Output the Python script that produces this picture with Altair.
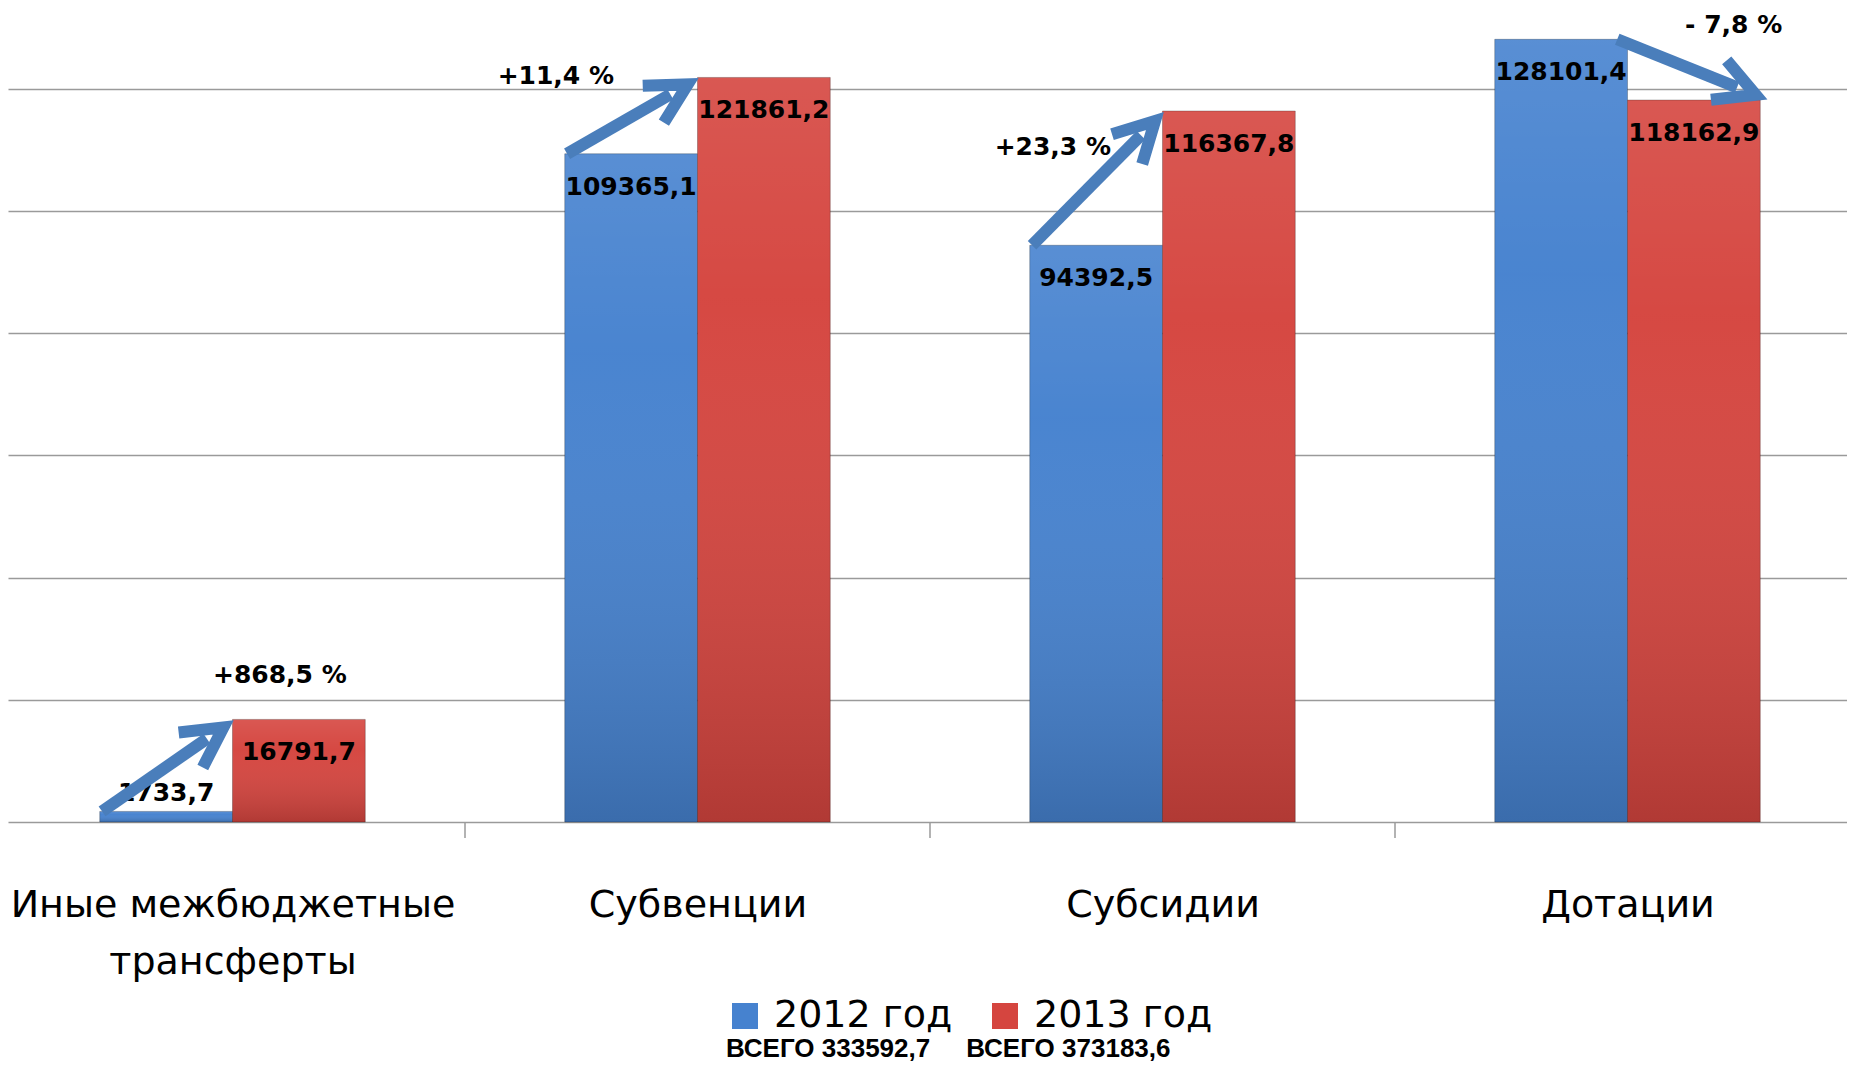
import json
import math
import altair as alt
import pandas as pd

# ---------------- data ----------------
categories = ["Иные межбюджетные трансферты", "Субвенции", "Субсидии", "Дотации"]
years = ["2012 год", "2013 год"]
values_2012 = [1733.7, 109365.1, 94392.5, 128101.4]
values_2013 = [16791.7, 121861.2, 116367.8, 118162.9]
grid_values = [0, 20000, 40000, 60000, 80000, 100000, 120000]

# ---------------- layout / style ----------------
PLOT_W = 1839
PLOT_H = 814
PXU = 465.0                 # pixels per category unit
PPV = 122.2 / 20000         # pixels per value unit
X_MIN = 8 / PXU
X_MAX = X_MIN + PLOT_W / PXU
Y_MAX = PLOT_H / PPV
BAR_W = 0.2855
BLUE = "#4682cf"
RED = "#d5453f"
ARROW = "#4a7ebb"
GRID = "#9a9a9a"
PCT_OFFSETS = [(45, -44), (-144, -1), (-112, 36), (-35, -75)]  # px from arrow tip
INSIDE_MIN_PX = 45
SHAFT_GAP = 34


def fmt(v):
    return f"{v:.1f}".replace(".", ",")


def fmt_pct(a, b):
    p = (b / a - 1) * 100
    sign = "+" if p >= 0 else "- "
    return f"{sign}{abs(p):.1f} %".replace(".", ",")


# bars
bar_rows = []
for i, cat in enumerate(categories):
    for yr, vals, left in ((years[0], values_2012, i + 0.5 - BAR_W), (years[1], values_2013, i + 0.5)):
        v = vals[i]
        bar_rows.append({
            "cat": cat, "year": yr, "value": v,
            "x0": left, "x1": left + BAR_W, "xc": left + BAR_W / 2,
            "label": fmt(v), "inside": v * PPV >= INSIDE_MIN_PX,
        })
bars = pd.DataFrame(bar_rows)

# arrows
arrow_rows = []
for i, cat in enumerate(categories):
    a, b = values_2012[i], values_2013[i]
    if b >= a:
        x0 = i + 0.5 - BAR_W + 0.005
        x1 = i + 0.5 + 0.005
    else:
        x0 = i + 0.5 - 0.022
        x1 = i + 0.5 + BAR_W + 0.018
    y0, y1 = a, b
    dxp = (x1 - x0) * PXU
    dyp = -(y1 - y0) * PPV
    L = math.hypot(dxp, dyp)
    ux, uy = dxp / L, dyp / L
    xs = x1 - SHAFT_GAP * ux / PXU
    ys = y1 + SHAFT_GAP * uy / PPV
    ang = math.degrees(math.atan2(dyp, dxp)) % 360
    ox, oy = PCT_OFFSETS[i]
    arrow_rows.append({
        "cat": cat, "x0": x0, "y0": y0, "xs": xs, "ys": ys, "x1": x1, "y1": y1,
        "angle": ang, "pct": fmt_pct(a, b),
        "lx": x1 + ox / PXU, "ly": y1 - oy / PPV,
    })
arrows = pd.DataFrame(arrow_rows)

ticks = pd.DataFrame({"bx": list(range(1, len(categories)))})

total_2012 = sum(values_2012)
total_2013 = sum(values_2013)
legend_title = f"ВСЕГО {fmt(total_2012)}" + "\u00a0" * 5 + f"ВСЕГО {fmt(total_2013)}"

label_lines = []
for c in categories:
    if len(c) > 20:
        k = c.rfind(" ")
        label_lines.append([c[:k], c[k + 1:]])
    else:
        label_lines.append(c)
label_expr = json.dumps(label_lines, ensure_ascii=False) + "[round(datum.value - 0.5)]"

xscale = alt.Scale(domain=[X_MIN, X_MAX], nice=False, zero=False)
yscale = alt.Scale(domain=[0, Y_MAX], nice=False, zero=True)
x_axis = alt.Axis(
    values=[i + 0.5 for i in range(len(categories))], labelExpr=label_expr,
    ticks=False, domain=False, grid=False, title=None,
    labelFont="DejaVu Sans", labelFontSize=38, labelColor="black",
    labelPadding=94, labelBaseline="alphabetic", labelLineHeight=57,
    labelOverlap=False, labelBound=False, labelFlush=False, labelLimit=0,
)
y_axis = alt.Axis(values=grid_values, grid=True, gridColor=GRID, gridWidth=1.5,
                  labels=False, ticks=False, domain=False, title=None)

X = lambda f: alt.X(f, type="quantitative", scale=xscale, axis=x_axis)
Y = lambda f: alt.Y(f, type="quantitative", scale=yscale, axis=y_axis)

base_bars = alt.Chart(bars).mark_rect(stroke="rgba(0,0,0,0.25)", strokeWidth=1).encode(
    x=X("x0"), x2="x1", y=Y("value"), y2=alt.datum(0),
    color=alt.Color("year:N", scale=alt.Scale(domain=years, range=[BLUE, RED]),
                    legend=alt.Legend(
                        orient="none", legendX=718, legendY=989, direction="horizontal",
                        title=legend_title, titleOrient="bottom", titleAnchor="start",
                        titleFont="Liberation Sans", titleFontSize=26, titleFontWeight="bold",
                        titleColor="black", titlePadding=1, titleLimit=0,
                        labelFont="DejaVu Sans", labelFontSize=38, labelColor="black",
                        labelOffset=10, columnPadding=33, padding=0, labelLimit=0,
                        symbolType="square", symbolSize=676, symbolStrokeWidth=0,
                        symbolOpacity=1)),
)

shade = alt.Chart(bars).mark_rect(
    color=alt.Gradient(gradient="linear", x1=0, x2=0, y1=0, y2=1, stops=[
        alt.GradientStop(color="rgba(255,255,255,0.10)", offset=0),
        alt.GradientStop(color="rgba(255,255,255,0.02)", offset=0.3),
        alt.GradientStop(color="rgba(0,0,0,0.17)", offset=1),
    ])
).encode(x=X("x0"), x2="x1", y=Y("value"), y2=alt.datum(0))

tick_rules = alt.Chart(ticks).mark_rule(color=GRID, strokeWidth=1.5).encode(
    x=X("bx"), y=alt.value(PLOT_H), y2=alt.value(PLOT_H + 16))

lbl_in = alt.Chart(bars).transform_filter("datum.inside").mark_text(
    font="DejaVu Sans", fontWeight="bold", fontSize=25, color="black",
    baseline="alphabetic", align="center", dy=41,
).encode(x=X("xc"), y=Y("value"), text="label:N")

lbl_out = alt.Chart(bars).transform_filter("!datum.inside").mark_text(
    font="DejaVu Sans", fontWeight="bold", fontSize=25, color="black",
    baseline="alphabetic", align="center", dy=-10,
).encode(x=X("xc"), y=Y("value"), text="label:N")

shaft = alt.Chart(arrows).mark_rule(color=ARROW, strokeWidth=12, strokeCap="butt").encode(
    x=X("x0"), x2="xs", y=Y("y0"), y2="ys")

head = alt.Chart(arrows).mark_point(
    shape="M -2.53 -1 L -0.66 0 L -2.53 1", filled=False, stroke=ARROW, strokeWidth=12,
    size=1800, opacity=1, strokeJoin="miter", strokeCap="butt",
).encode(x=X("x1"), y=Y("y1"), angle=alt.Angle("angle:Q", scale=None))

pct = alt.Chart(arrows).mark_text(
    font="DejaVu Sans", fontWeight="bold", fontSize=25, color="black",
    baseline="middle", align="center",
).encode(x=X("lx"), y=Y("ly"), text="pct:N")

chart = alt.layer(tick_rules, base_bars, shade, lbl_in, lbl_out, shaft, head, pct).properties(
    width=PLOT_W, height=PLOT_H,
    autosize=alt.AutoSizeParams(type="none"),
    padding={"left": 0, "top": 0, "right": 0, "bottom": 243},
    background="white",
).configure_view(stroke=None)

chart.save("out.html", embed_options={"renderer": "svg", "actions": False})
